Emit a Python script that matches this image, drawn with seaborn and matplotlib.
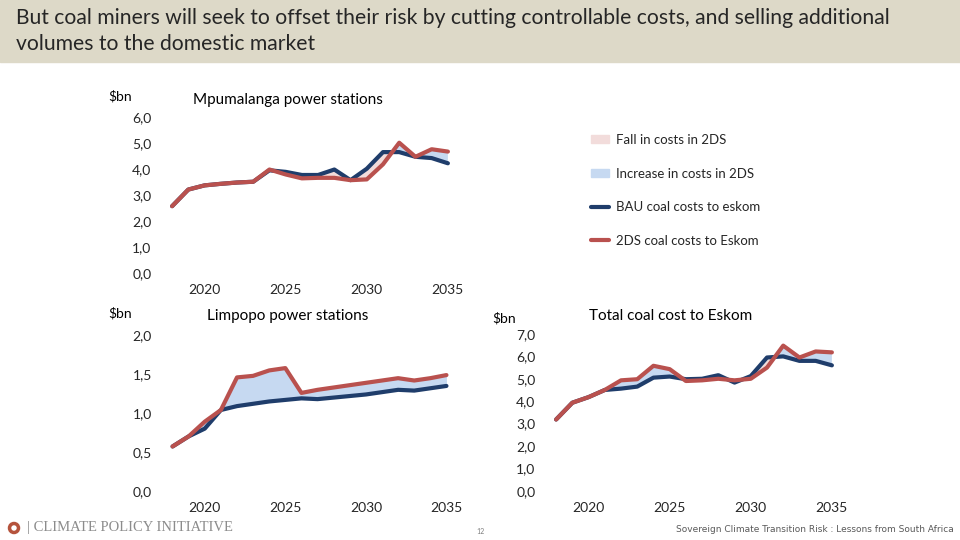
import numpy as np
import matplotlib.pyplot as plt
import matplotlib.patches as mpatches
from matplotlib.lines import Line2D
import seaborn as sns

years = list(range(2018, 2036))

# Mpumalanga power stations ($bn)
mp_bau = [2.57, 3.21, 3.37, 3.43, 3.48, 3.51, 3.95, 3.89, 3.77, 3.77, 3.98, 3.57,
          4.01, 4.65, 4.65, 4.47, 4.42, 4.22]
mp_2ds = [2.57, 3.21, 3.37, 3.43, 3.48, 3.51, 3.98, 3.79, 3.64, 3.66, 3.66, 3.57,
          3.60, 4.18, 5.01, 4.47, 4.76, 4.67]

# Limpopo power stations ($bn)
lp_bau = [0.57, 0.70, 0.80, 1.04, 1.09, 1.12, 1.15, 1.17, 1.19, 1.18, 1.20, 1.22,
          1.24, 1.27, 1.30, 1.29, 1.32, 1.35]
lp_2ds = [0.57, 0.70, 0.89, 1.04, 1.46, 1.48, 1.55, 1.58, 1.26, 1.30, 1.33, 1.36,
          1.39, 1.42, 1.45, 1.42, 1.45, 1.49]

# Total coal cost to Eskom ($bn)
tot_bau = [3.18, 3.93, 4.18, 4.50, 4.56, 4.65, 5.05, 5.10, 4.98, 5.00, 5.16, 4.83,
           5.12, 5.95, 6.00, 5.80, 5.80, 5.60]
tot_2ds = [3.18, 3.93, 4.18, 4.50, 4.93, 4.98, 5.58, 5.43, 4.90, 4.93, 5.00, 4.93,
           5.00, 5.50, 6.48, 5.95, 6.22, 6.18]

year_ticks = [2020, 2025, 2030, 2035]

BLUE = '#1f3d6b'
RED = '#b9514e'
PINK = '#f2dcdb'
LBLUE = '#c6d9f1'

sns.set_theme(style="white")
plt.rcParams['font.family'] = ['Lato', 'DejaVu Sans']

W, H = 960, 540
fig = plt.figure(figsize=(9.6, 5.4), dpi=100)


def px_axes(left, top, width, height):
    return fig.add_axes([left / W, 1 - (top + height) / H, width / W, height / H])


def draw_panel(ax, bau, tds, ymax, ystep, title, title_x, title_y, bn_x, bn_y):
    x = np.array(years)
    b = np.array(bau)
    r = np.array(tds)
    ax.fill_between(x, b, r, where=r <= b, interpolate=True, color=PINK, lw=0)
    ax.fill_between(x, b, r, where=r >= b, interpolate=True, color=LBLUE, lw=0)
    sns.lineplot(x=x, y=b, ax=ax, color=BLUE, lw=3)
    sns.lineplot(x=x, y=r, ax=ax, color=RED, lw=3)
    ax.set_xlim(2017.5, 2035.5)
    ax.set_ylim(0, ymax)
    ax.set_xticks(year_ticks)
    ax.set_xticklabels([str(y) for y in year_ticks])
    yt = np.arange(0, ymax + 1e-9, ystep)
    ax.set_yticks(yt)
    ax.set_yticklabels([f"{v:.1f}".replace('.', ',') for v in yt])
    ax.tick_params(axis='y', length=0, pad=9, labelsize=10)
    ax.tick_params(axis='x', length=0, pad=8, labelsize=10)
    for s in ax.spines.values():
        s.set_visible(False)
    ax.set_facecolor('none')
    fig.text(title_x / W, 1 - title_y / H, title, ha='center', va='center',
             fontsize=11, color='black')
    fig.text(bn_x / W, 1 - bn_y / H, '$bn', ha='left', va='center',
             fontsize=10, color='black')


ax1 = px_axes(164, 117, 292, 156)
draw_panel(ax1, mp_bau, mp_2ds, 6, 1, 'Mpumalanga power stations', 288, 100, 108, 96)

ax2 = px_axes(164.5, 335.5, 290, 155.2)
draw_panel(ax2, lp_bau, lp_2ds, 2, 0.5, 'Limpopo power stations', 288, 316, 108, 313)

ax3 = px_axes(548, 334, 292, 156.7)
draw_panel(ax3, tot_bau, tot_2ds, 7, 1, 'Total coal cost to Eskom', 671, 316, 492, 318)

# legend
handles = [
    mpatches.Patch(color=PINK, label='Fall in costs in 2DS'),
    mpatches.Patch(color=LBLUE, label='Increase in costs in 2DS'),
    Line2D([], [], color=BLUE, lw=3, label='BAU coal costs to eskom'),
    Line2D([], [], color=RED, lw=3, label='2DS coal costs to Eskom'),
]
fig.legend(handles=handles, loc='upper left', bbox_to_anchor=(579 / W, 1 - 122 / H),
           frameon=False, fontsize=9.5, labelspacing=1.64, handlelength=1.4,
           handletextpad=0.5, handleheight=0.6)

# title banner
fig.patches.append(mpatches.Rectangle((0, 1 - 62 / H), 1, 62 / H, transform=fig.transFigure,
                                      color='#ddd9c8', zorder=0))
fig.text(16 / W, 1 - 18 / H, 'But coal miners will seek to offset their risk by cutting controllable costs, and selling additional',
         ha='left', va='center', fontsize=15.2, color='#262626')
fig.text(16 / W, 1 - 44 / H, 'volumes to the domestic market',
         ha='left', va='center', fontsize=15.2, color='#262626')

# footer
fig.patches.append(mpatches.Ellipse((14 / W, 1 - 528 / H), 9 / W, 9 / H, transform=fig.transFigure,
                                    facecolor='none', edgecolor='#b5533c', lw=2.5))
fig.text(27 / W, 1 - 528 / H, '| CLIMATE POLICY INITIATIVE', ha='left', va='center',
         fontsize=10.5, color='#8c8c8c', family=['Liberation Serif', 'DejaVu Serif'])
fig.text(480 / W, 1 - 531 / H, '12', ha='center', va='center', fontsize=5, color='#7f7f7f')
fig.text(954 / W, 1 - 530 / H, 'Sovereign Climate Transition Risk : Lessons from South Africa',
         ha='right', va='center', fontsize=6.5, color='#595959',
         family=['Liberation Sans Narrow', 'DejaVu Sans'])

fig.savefig('out.png', dpi=100)
